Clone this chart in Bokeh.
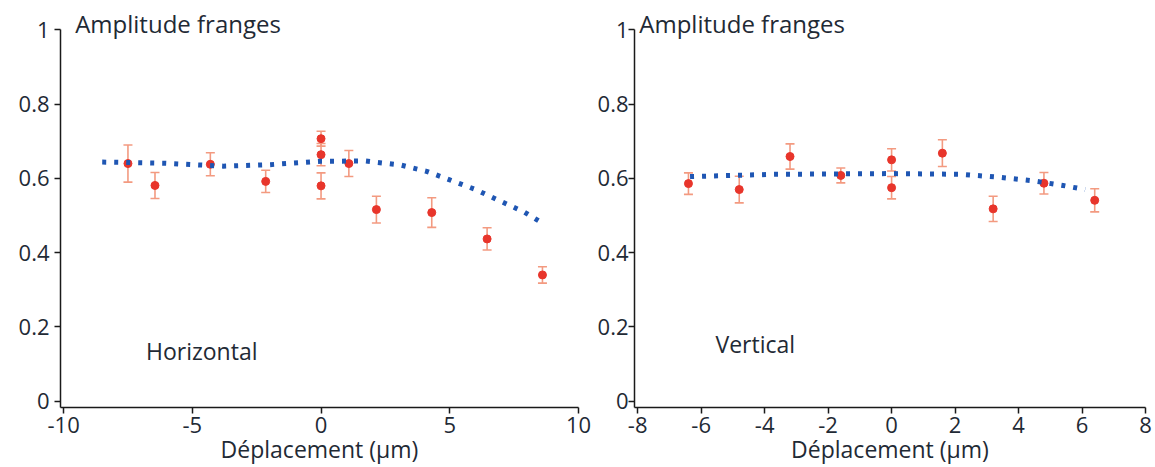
from bokeh.plotting import figure
from bokeh.layouts import row
from bokeh.models import ColumnDataSource, Whisker, TeeHead, Label, FixedTicker, Range1d
from bokeh.embed import file_html
from bokeh.resources import INLINE

# ---------------- data ----------------
# Horizontal panel (left)
h_x = [-7.5, -6.45, -4.3, -2.15, 0.0, 0.0, 0.0, 1.08, 2.15, 4.3, 6.45, 8.6]
h_y = [0.640, 0.581, 0.638, 0.592, 0.707, 0.664, 0.580, 0.640, 0.516, 0.508, 0.437, 0.340]
h_err = [0.050, 0.035, 0.031, 0.030, 0.020, 0.030, 0.035, 0.035, 0.036, 0.040, 0.030, 0.022]
h_fit_x = [-8.5, -6.1, -3.8, -2.0, 0.0, 1.7, 3.1, 4.1, 5.0, 6.0, 6.9, 7.9, 8.45]
h_fit_y = [0.644, 0.641, 0.633, 0.637, 0.646, 0.647, 0.636, 0.619, 0.596, 0.570, 0.541, 0.509, 0.486]

# Vertical panel (right)
v_x = [-6.4, -4.8, -3.2, -1.6, 0.0, 0.0, 1.6, 3.2, 4.8, 6.4]
v_y = [0.586, 0.570, 0.659, 0.608, 0.650, 0.575, 0.668, 0.518, 0.587, 0.541]
v_err = [0.029, 0.036, 0.034, 0.020, 0.030, 0.030, 0.036, 0.034, 0.029, 0.031]
v_fit_x = [-6.35, -3.7, 0.0, 2.2, 3.4, 4.5, 5.4, 6.1]
v_fit_y = [0.605, 0.611, 0.613, 0.611, 0.603, 0.593, 0.581, 0.570]

y_ticks = [0, 0.2, 0.4, 0.6, 0.8, 1]
y_tick_labels = ["0", "0.2", "0.4", "0.6", "0.8", "1"]
h_x_ticks = [-10, -5, 0, 5, 10]
h_x_tick_labels = ["-10", "-5", "0", "5", "10"]
v_x_ticks = [-8, -6, -4, -2, 0, 2, 4, 6, 8]
v_x_tick_labels = ["-8", "-6", "-4", "-2", "0", "2", "4", "6", "8"]

y_title = "Amplitude franges"
x_title = "Déplacement (µm)"
h_name = "Horizontal"
v_name = "Vertical"

FONT = "Open Sans"
TXT = "#1f2a35"
AX = "#1a1a1a"
MARK = "#e8352b"
ERR = "#f39a80"
FIT = "#1f56b3"

Y0 = -0.017
Y1 = 1.063


def panel(xs, ys, errs, fx, fy, xr, xticks, xlabels, name, name_pos, title_x,
          width, bl, br, ystand):
    p = figure(width=width, height=467, output_backend="svg", toolbar_location=None,
               x_range=Range1d(*xr), y_range=Range1d(Y0, Y1),
               min_border_left=bl, min_border_right=br, min_border_top=6,
               min_border_bottom=60)
    p.outline_line_color = None
    p.grid.visible = False
    p.background_fill_color = "white"
    p.border_fill_color = "white"

    for ax in (p.xaxis[0], p.yaxis[0]):
        ax.axis_line_color = AX
        ax.axis_line_width = 1.5
        ax.major_tick_line_color = AX
        ax.major_tick_line_width = 1.5
        ax.major_tick_out = 6
        ax.major_tick_in = 0
        ax.minor_tick_line_color = None
        ax.major_label_text_font = FONT
        ax.major_label_text_font_size = "22px"
        ax.major_label_text_color = TXT

    p.xaxis.ticker = FixedTicker(ticks=xticks)
    p.xaxis.major_label_overrides = {t: l for t, l in zip(xticks, xlabels)}
    p.xaxis.major_label_standoff = 3
    p.xaxis.axis_label = x_title
    p.xaxis.axis_label_text_font = FONT
    p.xaxis.axis_label_text_font_size = "23px"
    p.xaxis.axis_label_text_font_style = "normal"
    p.xaxis.axis_label_text_color = TXT
    p.xaxis.axis_label_standoff = -3

    p.yaxis.ticker = FixedTicker(ticks=y_ticks)
    p.yaxis.major_label_overrides = {t: l for t, l in zip(y_ticks, y_tick_labels)}
    p.yaxis.major_label_standoff = ystand
    p.yaxis.bounds = (Y0, 1.0)

    up = [y + e for y, e in zip(ys, errs)]
    lo = [y - e for y, e in zip(ys, errs)]
    src = ColumnDataSource(dict(x=xs, y=ys, upper=up, lower=lo))
    w = Whisker(source=src, base="x", upper="upper", lower="lower",
                line_color=ERR, line_width=1.6,
                upper_head=TeeHead(size=9, line_color=ERR, line_width=1.6),
                lower_head=TeeHead(size=9, line_color=ERR, line_width=1.6))
    p.add_layout(w)
    p.scatter("x", "y", source=src, size=8, fill_color=MARK, line_color=MARK)

    p.line(fx, fy, line_color=FIT, line_width=5, line_dash="4 8")

    p.add_layout(Label(x=title_x, y=1.017, text=y_title, text_font=FONT,
                       text_font_size="24px", text_color=TXT,
                       text_baseline="alphabetic", text_align="left"))
    p.add_layout(Label(x=name_pos[0], y=name_pos[1], text=name, text_font=FONT,
                       text_font_size="23px", text_color=TXT,
                       text_baseline="alphabetic", text_align="left"))
    return p


p1 = panel(h_x, h_y, h_err, h_fit_x, h_fit_y, (-10.12, 10.0), h_x_ticks, h_x_tick_labels,
           h_name, (-6.8, 0.134), -9.55, 594, 60, 16, 5)
p2 = panel(v_x, v_y, v_err, v_fit_x, v_fit_y, (-8.1, 8.0), v_x_ticks, v_x_tick_labels,
           v_name, (-5.55, 0.155), -7.95, 561, 36, 10, 0)

layout = row(p1, p2, spacing=0)
open("out.html", "w").write(file_html(layout, INLINE))
